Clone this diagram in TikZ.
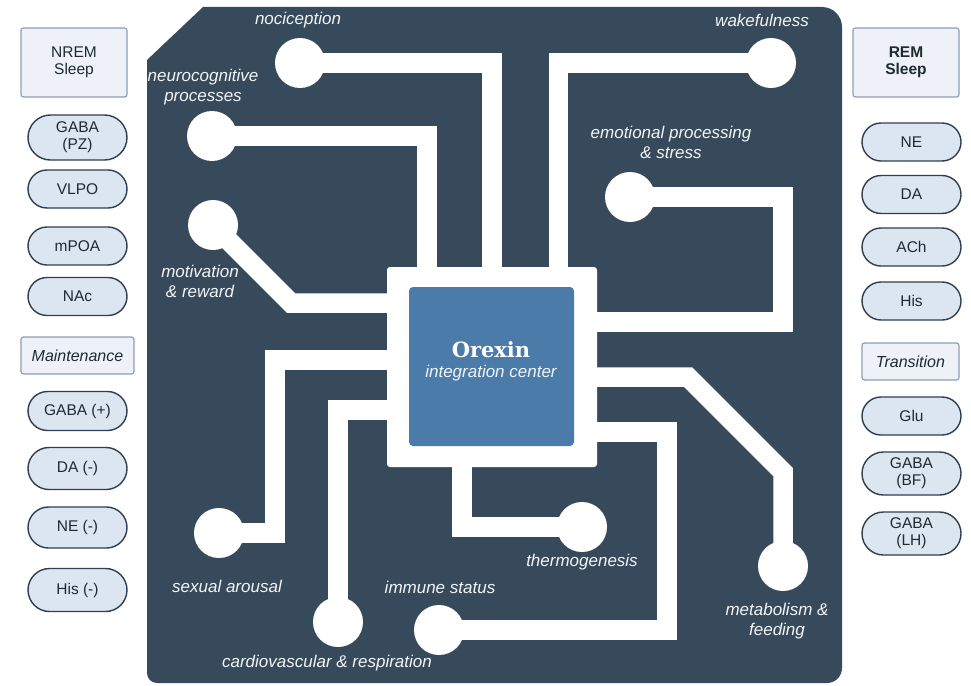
\documentclass[tikz,border=0pt]{standalone}
\usepackage{fontspec}
\setmainfont{Liberation Sans}
\newfontfamily\slabfont{DejaVu Serif}
\usetikzlibrary{shapes.misc}

\definecolor{panel}{HTML}{374A5B}
\definecolor{core}{HTML}{4A7BA9}
\definecolor{pillfill}{HTML}{DCE6F0}
\definecolor{pilledge}{HTML}{2F3F4F}
\definecolor{tagfill}{HTML}{EEF2F8}
\definecolor{tagedge}{HTML}{8E9DB8}
\definecolor{labeltext}{HTML}{F2F4F6}
\definecolor{inktext}{HTML}{1F2A33}

\tikzset{
  trace/.style={draw=white, line width=19.5pt},
  pad/.style={circle, fill=white, minimum size=50pt, inner sep=0pt},
  lbl/.style={text=labeltext, font=\fontsize{17}{20}\selectfont\itshape, align=center, inner sep=0pt},
  pill/.style={rounded rectangle, draw=pilledge, line width=1.4pt, fill=pillfill,
    minimum width=99pt, minimum height=38pt, inner sep=0pt,
    font=\fontsize{15.5}{17}\selectfont, text=inktext, align=center},
  tag/.style={draw=tagedge, line width=1.2pt, fill=tagfill, rounded corners=2.5pt,
    inner sep=0pt, font=\fontsize{15.5}{17}\selectfont, text=inktext, align=center},
}

\begin{document}
\begin{tikzpicture}[x=1pt,y=-1pt]
\fill[white] (0,0) rectangle (971,685);
\useasboundingbox (0,0) rectangle (971,685);

% dark board with a cut corner at top left
\fill[panel] (147,60) -- (203,7) -- (822,7)
  .. controls (833,7) and (842,16) .. (842,27)
  -- (842,668) .. controls (842,676.3) and (835.3,683) .. (827,683)
  -- (157,683) .. controls (151.5,683) and (147,678.5) .. (147,673) -- cycle;

% central plate and the terminal pads
\node[fill=white, minimum width=210pt, minimum height=200pt, inner sep=0pt, rounded corners=3pt] (plate) at (492,367) {};
\node[pad] (noci)   at (300,63)  {};
\node[pad] (wake)   at (771,63)  {};
\node[pad] (neuro)  at (212,136) {};
\node[pad] (motiv)  at (213,225) {};
\node[pad] (emot)   at (630,197) {};
\node[pad] (sexual) at (219,533) {};
\node[pad] (cardio) at (338,622) {};
\node[pad] (immune) at (439,630) {};
\node[pad] (thermo) at (582,527) {};
\node[pad] (metab)  at (783,566) {};

% bend points of the traces
\coordinate (m1) at (291,303);
\coordinate (s1) at (275,360);
\coordinate (c1) at (338,410);
\coordinate (i1) at (667,432);
\coordinate (f1) at (688,377);
\coordinate (f2) at (783,472);
\coordinate (e1) at (783,197);
\coordinate (e2) at (783,322);

% traces
\draw[trace] (noci.center) -| (plate.north);
\draw[trace] (neuro.center) -| ([xshift=-65pt]plate.north);
\draw[trace] (wake.center) -| ([xshift=66.5pt]plate.north);
\draw[trace] (motiv.center) -- (m1) -- (m1 -| plate.west);
\draw[trace] (sexual.center) -| (s1) -- (s1 -| plate.west);
\draw[trace] (cardio.center) -- (c1) -- (c1 -| plate.west);
\draw[trace] (thermo.center) -| ([xshift=-30pt]plate.south);
\draw[trace] (immune.center) -| (i1) -- (i1 -| plate.east);
\draw[trace] (metab.center) -- (f2) -- (f1) -- (f1 -| plate.east);
\draw[trace] (emot.center) -- (e1) -- (e2) -- (e2 -| plate.east);

% integration centre
\node[fill=core, rounded corners=4pt, minimum width=165pt, minimum height=159pt, inner sep=0pt] (core) at (491.5,366.5) {};
\node[text=white, font=\slabfont\bfseries\fontsize{21}{24}\selectfont, inner sep=0pt] (orexin) at (491,350) {Orexin};
\node[text=labeltext, font=\fontsize{17}{20}\selectfont\itshape, inner sep=0pt] (integ) at (491,373) {integration center};

% function labels
\node[lbl] (lnoci)   at (298,20)  {nociception};
\node[lbl] (lwake)   at (762,20)  {wakefulness};
\node[lbl] (lneuro)  at (203,87)  {neurocognitive\\processes};
\node[lbl] (lemot)   at (671,142) {emotional processing\\\& stress};
\node[lbl] (lmotiv)  at (200,281) {motivation\\\& reward};
\node[lbl] (lsexual) at (227,586) {sexual arousal};
\node[lbl] (lcardio) at (327,663) {cardiovascular \& respiration};
\node[lbl] (limmune) at (440,587) {immune status};
\node[lbl] (lthermo) at (582,562) {thermogenesis};
\node[lbl] (lmetab)  at (777,621) {metabolism \&\\feeding};

% NREM column
\node[tag, minimum width=106pt, minimum height=69pt] (nrem) at (74,62.5) {NREM\\Sleep};
\node[pill, minimum height=45pt] (gabapz) at (77.5,137.5) {GABA\\(PZ)};
\node[pill] (vlpo) at (77.5,189) {VLPO};
\node[pill] (mpoa) at (77.5,246) {mPOA};
\node[pill] (nac)  at (77.5,296.5) {NAc};
\node[tag, minimum width=113pt, minimum height=37pt, font=\fontsize{16}{18}\selectfont\itshape] (maint) at (77.5,355.5) {Maintenance};
\node[pill, minimum height=39pt] (gabaplus) at (77.5,411) {GABA (+)};
\node[pill, minimum height=42pt] (daminus)  at (77.5,468.5) {DA (-)};
\node[pill, minimum height=41pt] (neminus)  at (77.5,527.5) {NE (-)};
\node[pill, minimum height=43pt] (hisminus) at (77.5,590) {His (-)};

% REM column
\node[tag, minimum width=106pt, minimum height=69pt, font=\fontsize{15.5}{17}\selectfont\bfseries] (rem) at (906,62.5) {REM\\Sleep};
\node[pill] (ne)  at (911.5,142) {NE};
\node[pill] (da)  at (911.5,194.5) {DA};
\node[pill] (ach) at (911.5,247) {ACh};
\node[pill] (his) at (911.5,301) {His};
\node[tag, minimum width=97pt, minimum height=37pt, font=\fontsize{16}{18}\selectfont\itshape] (trans) at (910.5,361.5) {Transition};
\node[pill] (glu) at (911.5,416) {Glu};
\node[pill, minimum height=43pt] (gababf) at (911.5,473.5) {GABA\\(BF)};
\node[pill, minimum height=43pt] (gabalh) at (911.5,533.5) {GABA\\(LH)};
\end{tikzpicture}
\end{document}
